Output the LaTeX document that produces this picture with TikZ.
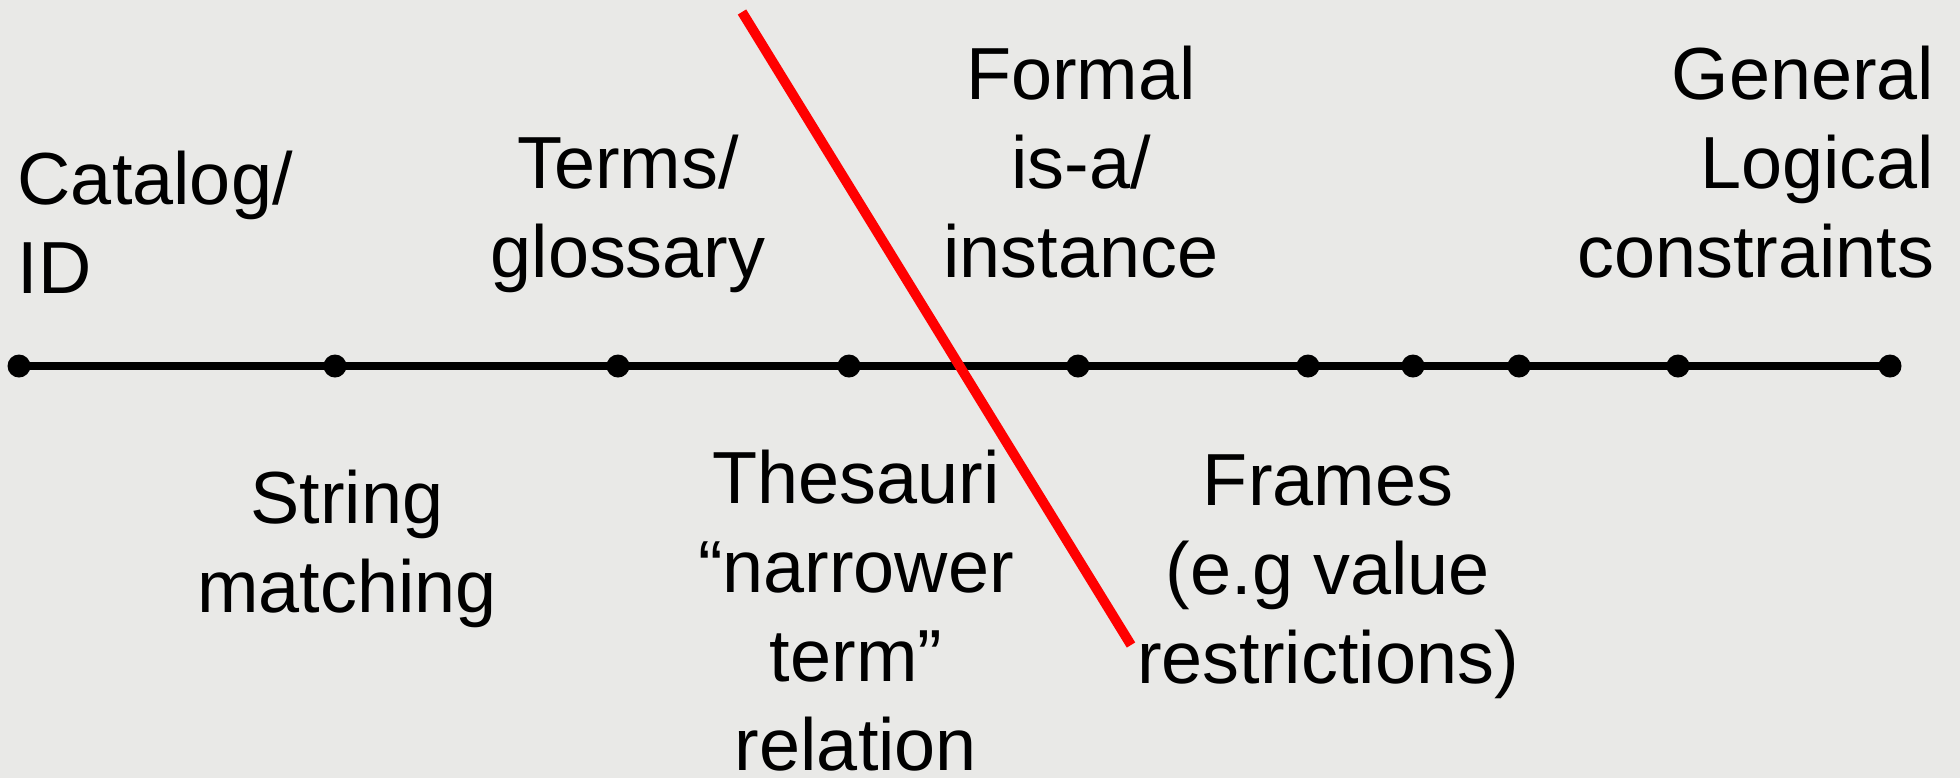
\documentclass[tikz,border=0pt]{standalone}
\usepackage{fontspec}
\setmainfont{Liberation Sans}
\definecolor{bgray}{RGB}{233,233,231}
\definecolor{cutred}{RGB}{255,0,0}

\begin{document}
\begin{tikzpicture}[every node/.style={font=\fontsize{21}{25.3}\selectfont, inner sep=0pt},
  tick/.style={circle, fill=black, minimum size=0.23cm}]
  \useasboundingbox (0,0) rectangle (19.6,7.78);
  % Background
  \fill[bgray] (0,0) rectangle (19.6,7.78);

  % Scale with its ticks
  \foreach \x [count=\i] in {0.19,3.35,6.18,8.49,10.78,13.08,14.13,15.19,16.78,18.90}
    \node[tick] (t\i) at (\x,4.12) {};
  \draw[line width=2pt] (t1.center) -- (t10.center);

  % Cut
  \coordinate (cuttop) at (7.42,7.66);
  \coordinate (cutbot) at (11.31,1.33);
  \draw[cutred, line width=2.8pt] (cuttop) -- (cutbot);

  % Labels above (base = last line)
  \node[anchor=base west, align=left] (catalog) at (0.17,4.85) {Catalog/\\ID};
  \node[anchor=base, align=center] (terms) at (6.28,5.01) {Terms/\\glossary};
  \node[anchor=base, align=center] (formal) at (10.81,5.01) {Formal\\is-a/\\instance};
  \node[anchor=base east, align=right] (general) at (19.35,5.01) {General\\Logical\\constraints};

  % Labels below
  \node[anchor=base, align=center] (string) at (3.47,1.66) {String\\matching};
  \node[anchor=base, align=center] (thesauri) at (8.56,0.08) {Thesauri\\“narrower\\term”\\relation};
  \node[anchor=base, align=center] (frames) at (13.28,0.95) {Frames\\(e.g value\\restrictions)};
\end{tikzpicture}
\end{document}
